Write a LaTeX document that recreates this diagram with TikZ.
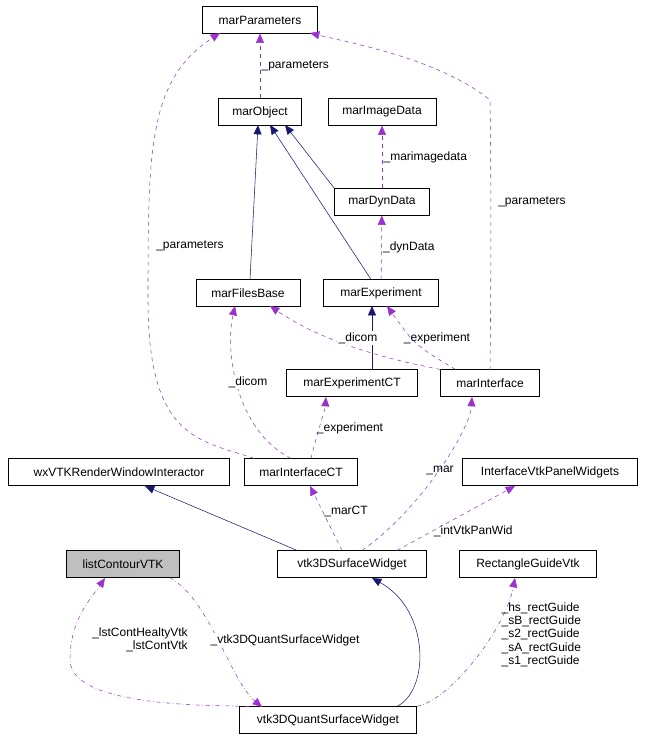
\documentclass[tikz,border=0pt]{standalone}
\usepackage{fontspec}
\setmainfont{Liberation Sans}
\usetikzlibrary{arrows.meta}
\begin{document}
\begin{tikzpicture}[x=0.75pt,y=-0.75pt,
  box/.style={draw=black,fill=white,minimum height=20pt,inner xsep=3pt,font=\fontsize{9}{10}\selectfont,anchor=center},
  inh/.style={draw={rgb,255:red,25;green,25;blue,112},-{Triangle[length=7pt,width=6pt]},fill=none},
  use/.style={draw={rgb,255:red,154;green,50;blue,205},dashed,-{Triangle[length=7pt,width=6pt]}},
  usedd/.style={draw={rgb,255:red,154;green,50;blue,205},dash dot,-{Triangle[length=7pt,width=6pt]}},
  lbl/.style={font=\fontsize{9}{10}\selectfont,inner sep=1pt,align=left}]
\useasboundingbox (0,0) rectangle (648,740);
\node[box,minimum width=86pt] (par) at (260,20) {marParameters};
\node[box,minimum width=62pt] (obj) at (260,112) {marObject};
\node[box,minimum width=81pt] (img) at (382,112) {marImageData};
\node[box,minimum width=71pt] (dyn) at (382,202) {marDynData};
\node[box,minimum width=78pt] (fb) at (248,293) {marFilesBase};
\node[box,minimum width=86pt] (exp) at (381,293) {marExperiment};
\node[box,minimum width=98pt] (expct) at (352,383) {marExperimentCT};
\node[box,minimum width=74pt] (int) at (490,383) {marInterface};
\node[box,minimum width=166pt] (wx) at (119,472) {wxVTKRenderWindowInteractor};
\node[box,minimum width=85pt] (intct) at (301,472) {marInterfaceCT};
\node[box,minimum width=131pt] (ivp) at (550,472) {InterfaceVtkPanelWidgets};
\node[box,minimum width=85pt,fill={rgb,255:red,191;green,191;blue,191}] (lc) at (123,564) {listContourVTK};
\node[box,minimum width=112pt] (sw) at (352,564) {vtk3DSurfaceWidget};
\node[box,minimum width=103pt] (rg) at (528,564) {RectangleGuideVtk};
\node[box,minimum width=133pt] (qsw) at (328,720) {vtk3DQuantSurfaceWidget};

\draw[use] (obj) -- node[lbl,right,pos=0.5]{\_parameters} (par);
\draw[inh] (dyn.north west) -- (285,125);
\draw[use] (dyn) -- node[lbl,right]{\_marimagedata} (img);
\draw[inh] (fb.north) ++(2,0) -- (258,125);
\draw[inh] (exp.north) ++(-10,0) -- (270,125);
\draw[use] (exp) -- node[lbl,right]{\_dynData} (dyn);
\draw[inh] (expct.north) ++(20,0) -- (372,306);
\draw[use] (int.north west) ++(15,0) .. controls (415,345) .. (387,306);
\node[lbl] at (437,338) {\_experiment};
\draw[use] (int.north west) .. controls (380,358) and (320,340) .. (270,306);
\node[lbl,fill=white] at (358,338) {\_dicom};
\draw[use] (490,370) .. controls (492,200) and (490,110) .. (490,100) .. controls (440,60) and (360,45) .. (310,33);
\node[lbl,fill=white] at (532,202) {\_parameters};
\draw[use] (intct.north west) ++(10,0) .. controls (200,440) and (148,440) .. (148,300) .. controls (148,150) and (148,80) .. (220,33);
\node[lbl,fill=white] at (190,246) {\_parameters};
\draw[use] (intct.north) ++(-10,0) .. controls (235,430) and (225,350) .. (235,306);
\node[lbl,fill=white] at (248,382) {\_dicom};
\draw[use] (intct.north) ++(10,0) .. controls (318,430) and (325,410) .. (326,397);
\node[lbl] at (350,428) {\_experiment};
\draw[inh] (sw.north west) ++(20,0) -- (145,486);
\draw[use] (sw.north) ++(-10,0) -- node[lbl,right,pos=0.6]{\_marCT} (310,486);
\draw[use] (sw.north) ++(10,0) .. controls (420,510) and (470,430) .. (472,397);
\node[lbl] at (440,470) {\_mar};
\draw[use] (sw.north east) ++(-30,0) -- node[lbl,right,pos=0.3]{\_intVtkPanWid} (515,486);
\draw[inh] (qsw.north east) ++(-20,0) .. controls (430,690) and (430,610) .. (372,578);
\draw[usedd] (qsw.north west) ++(10,0) .. controls (230,705) and (70,710) .. (70,660) .. controls (70,620) and (90,600) .. (105,578);
\node[lbl,align=right] at (140,640) {\_lstContHealtyVtk\\\_lstContVtk};
\draw[usedd] (lc.south east) ++(-10,0) .. controls (210,600) and (230,680) .. (262,707);
\node[lbl,fill=white] at (285,640) {\_vtk3DQuantSurfaceWidget};
\draw[usedd] (qsw.north east) ++(0,0) .. controls (450,700) and (505,630) .. (515,578);
\node[lbl,anchor=north west] at (500,601) {\_hs\_rectGuide\\\_sB\_rectGuide\\\_s2\_rectGuide\\\_sA\_rectGuide\\\_s1\_rectGuide};
\end{tikzpicture}
\end{document}
